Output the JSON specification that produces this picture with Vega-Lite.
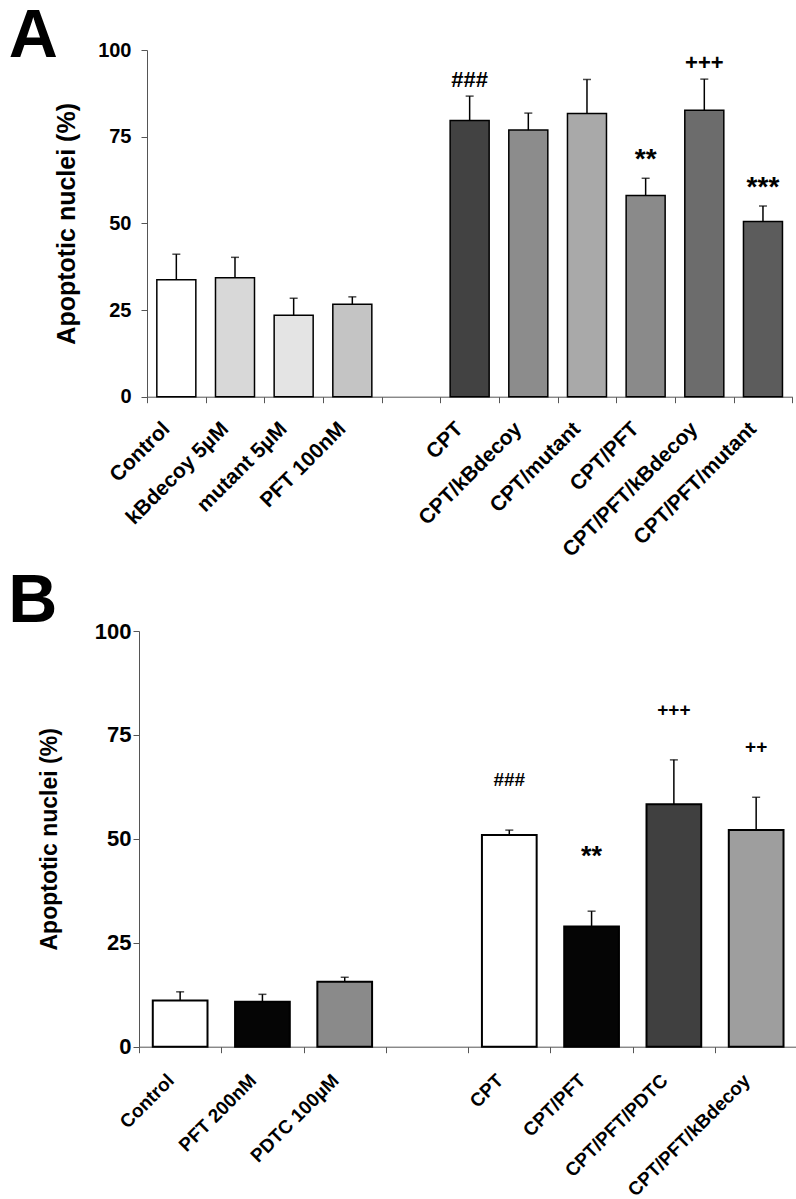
{
  "$schema": "https://vega.github.io/schema/vega-lite/v6.json",
  "background": "white",
  "padding": {"left": 7, "top": 3, "right": 0, "bottom": 0},
  "spacing": 7,
  "resolve": {"scale": {"color": "independent", "x": "independent", "y": "independent"}},
  "config": {
    "font": "Liberation Sans",
    "view": {"stroke": null},
    "axis": {
      "labelFontWeight": "bold",
      "labelColor": "black",
      "titleFontWeight": "bold",
      "titleColor": "black",
      "domainColor": "#555",
      "tickColor": "#555",
      "domainWidth": 1,
      "tickWidth": 1,
      "grid": false,
      "labelLimit": 400
    }
  },
  "vconcat": [
    {
      "spacing": 0,
      "hconcat": [
        {"width": 1, "height": 1, "data": {"values": []}, "mark": {"type": "point", "opacity": 0}, "encoding": {}},
        {
          "width": 645.3,
          "height": 346.7,
          "title": {"text": "A", "anchor": "start", "frame": "bounds", "fontSize": 68, "fontWeight": "bold", "color": "black", "dx": -46, "dy": 85, "offset": 0, "baseline": "alphabetic"},
          "data": {"values": [
            {"group": "Control", "value": 33.7, "upper": 41.1, "sig": ""},
            {"group": "kBdecoy 5µM", "value": 34.3, "upper": 40.2, "sig": ""},
            {"group": "mutant 5µM", "value": 23.5, "upper": 28.4, "sig": ""},
            {"group": "PFT 100nM", "value": 26.7, "upper": 28.8, "sig": ""},
            {"group": "CPT", "value": 79.7, "upper": 86.7, "sig": "###"},
            {"group": "CPT/kBdecoy", "value": 76.9, "upper": 81.8, "sig": ""},
            {"group": "CPT/mutant", "value": 81.7, "upper": 91.5, "sig": ""},
            {"group": "CPT/PFT", "value": 58.0, "upper": 63.0, "sig": "**"},
            {"group": "CPT/PFT/kBdecoy", "value": 82.6, "upper": 91.6, "sig": "+++"},
            {"group": "CPT/PFT/mutant", "value": 50.5, "upper": 55.0, "sig": "***"}
          ]},
          "encoding": {
            "x": {
              "field": "group", "type": "nominal", "sort": null,
              "scale": {"domain": ["Control", "kBdecoy 5µM", "mutant 5µM", "PFT 100nM", " ", "CPT", "CPT/kBdecoy", "CPT/mutant", "CPT/PFT", "CPT/PFT/kBdecoy", "CPT/PFT/mutant"], "paddingInner": 0, "paddingOuter": 0},
              "axis": {"title": null, "labelAngle": -45, "labelFontSize": 21, "tickBand": "extent", "tickSize": 6, "labelOffset": -18, "labelPadding": 15}
            }
          },
          "layer": [
            {
              "mark": {"type": "bar", "width": {"band": 0.665}, "stroke": "black", "strokeWidth": 1.5},
              "encoding": {
                "y": {"field": "value", "type": "quantitative", "scale": {"domain": [0, 100]},
                  "axis": {"values": [0, 25, 50, 75, 100], "title": "Apoptotic nuclei (%)", "titleFontSize": 25, "labelFontSize": 20, "tickSize": 6, "labelPadding": 10, "titlePadding": 18}},
                "color": {"field": "group", "type": "nominal", "legend": null,
                  "scale": {"domain": ["Control", "kBdecoy 5µM", "mutant 5µM", "PFT 100nM", "CPT", "CPT/kBdecoy", "CPT/mutant", "CPT/PFT", "CPT/PFT/kBdecoy", "CPT/PFT/mutant"],
                    "range": ["#ffffff", "#d8d8d8", "#e4e4e4", "#c4c4c4", "#424242", "#8c8c8c", "#a9a9a9", "#8a8a8a", "#6c6c6c", "#5c5c5c"]}}
              }
            },
            {
              "mark": {"type": "rule", "color": "black", "strokeWidth": 1.5},
              "encoding": {"y": {"field": "value", "type": "quantitative"}, "y2": {"field": "upper"}}
            },
            {
              "mark": {"type": "tick", "color": "black", "thickness": 1.5, "size": 8},
              "encoding": {"y": {"field": "upper", "type": "quantitative"}}
            },
            {
              "transform": [{"filter": "datum.sig != ''"}],
              "mark": {"type": "text", "baseline": "bottom", "dy": -4, "fontWeight": "bold", "color": "black"},
              "encoding": {
                "y": {"field": "upper", "type": "quantitative"},
                "text": {"field": "sig"},
                "size": {"condition": {"test": "indexof(datum.sig, '*') >= 0", "value": 28}, "value": 22}
              }
            }
          ]
        }
      ]
    },
    {
      "spacing": 0,
      "hconcat": [
        {"width": 1, "height": 1, "data": {"values": []}, "mark": {"type": "point", "opacity": 0}, "encoding": {}},
        {
          "width": 658.3,
          "height": 415.7,
          "title": {"text": "B", "anchor": "start", "frame": "bounds", "fontSize": 68, "fontWeight": "bold", "color": "black", "dx": -30, "dy": 70, "offset": 0, "baseline": "alphabetic"},
          "data": {"values": [
            {"group": "Control", "value": 11.1, "upper": 13.2, "sig": ""},
            {"group": "PFT 200nM", "value": 10.8, "upper": 12.6, "sig": ""},
            {"group": "PDTC 100µM", "value": 15.6, "upper": 16.7, "sig": ""},
            {"group": "CPT", "value": 50.9, "upper": 52.1, "sig": "###"},
            {"group": "CPT/PFT", "value": 28.9, "upper": 32.6, "sig": "**"},
            {"group": "CPT/PFT/PDTC", "value": 58.3, "upper": 69.0, "sig": "+++"},
            {"group": "CPT/PFT/kBdecoy", "value": 52.1, "upper": 60.0, "sig": "++"}
          ]},
          "encoding": {
            "x": {
              "field": "group", "type": "nominal", "sort": null,
              "scale": {"domain": ["Control", "PFT 200nM", "PDTC 100µM", " ", "CPT", "CPT/PFT", "CPT/PFT/PDTC", "CPT/PFT/kBdecoy"], "paddingInner": 0, "paddingOuter": 0},
              "axis": {"title": null, "labelAngle": -45, "labelFontSize": 19, "tickBand": "extent", "tickSize": 6, "labelOffset": -16, "labelPadding": 18}
            }
          },
          "layer": [
            {
              "mark": {"type": "bar", "width": {"band": 0.665}, "stroke": "black", "strokeWidth": 2},
              "encoding": {
                "y": {"field": "value", "type": "quantitative", "scale": {"domain": [0, 100]},
                  "axis": {"values": [0, 25, 50, 75, 100], "title": "Apoptotic nuclei  (%)", "titleFontSize": 23, "labelFontSize": 22, "tickSize": 6, "labelPadding": 2, "titlePadding": 33}},
                "color": {"field": "group", "type": "nominal", "legend": null,
                  "scale": {"domain": ["Control", "PFT 200nM", "PDTC 100µM", "CPT", "CPT/PFT", "CPT/PFT/PDTC", "CPT/PFT/kBdecoy"],
                    "range": ["#ffffff", "#050505", "#8a8a8a", "#ffffff", "#050505", "#404040", "#9e9e9e"]}}
              }
            },
            {
              "mark": {"type": "rule", "color": "black", "strokeWidth": 1.5},
              "encoding": {"y": {"field": "value", "type": "quantitative"}, "y2": {"field": "upper"}}
            },
            {
              "mark": {"type": "tick", "color": "black", "thickness": 1.5, "size": 8},
              "encoding": {"y": {"field": "upper", "type": "quantitative"}}
            },
            {
              "transform": [{"filter": "datum.sig != ''"}],
              "mark": {"type": "text", "baseline": "bottom", "dy": -40, "fontWeight": "bold", "color": "black"},
              "encoding": {
                "y": {"field": "upper", "type": "quantitative"},
                "text": {"field": "sig"},
                "size": {"condition": {"test": "indexof(datum.sig, '*') >= 0", "value": 27}, "value": 19}
              }
            }
          ]
        }
      ]
    }
  ]
}
